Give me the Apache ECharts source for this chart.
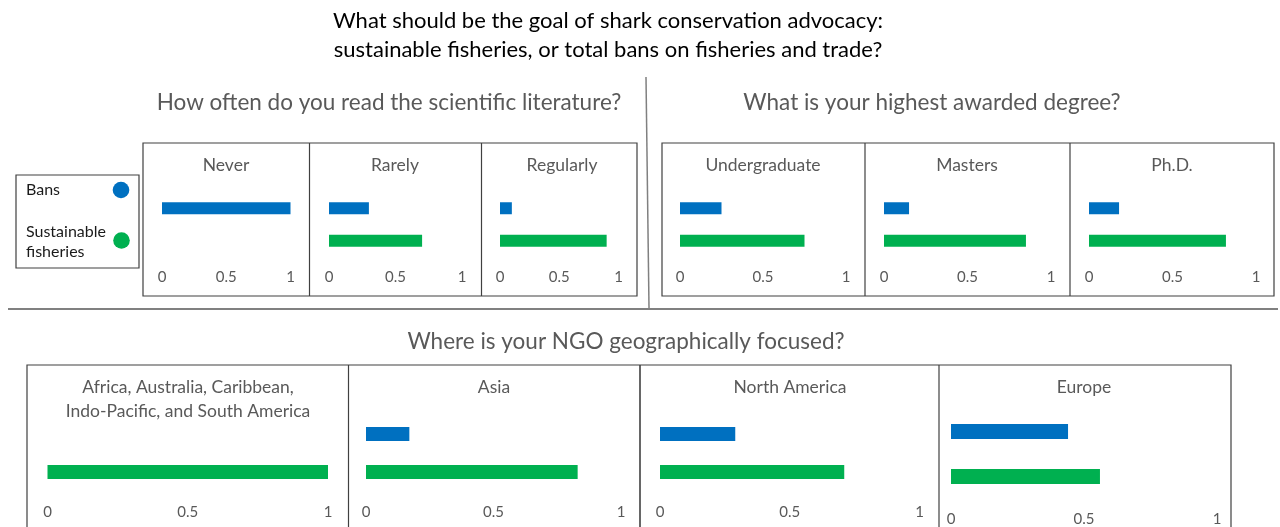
<!doctype html>
<html lang="en">
<head>
    <meta charset="utf-8">
    <script src="https://cdn.jsdelivr.net/npm/echarts@6.0.0/dist/echarts.min.js"></script>
    <style>
        html, body { margin: 0; padding: 0; background: #fff; }
        #main { width: 1280px; height: 527px; }
    </style>
</head>
<body>
<div id="main"></div>
<script type="text/javascript">
    // data (share of answers per group)
    var seriesNames = ['Bans', 'Sustainable fisheries'];
    var xTicks = [0, 0.5, 1];

    var readCats = ['Never', 'Rarely', 'Regularly'];
    var readBans = [1.0, 0.3, 0.1];
    var readSust = [0, 0.7, 0.9];

    var degreeCats = ['Undergraduate', 'Masters', 'Ph.D.'];
    var degreeBans = [0.25, 0.15, 0.18];
    var degreeSust = [0.75, 0.85, 0.82];

    var regionCats = ['Africa, Australia, Caribbean,\nIndo-Pacific, and South America', 'Asia', 'North America', 'Europe'];
    var regionBans = [0, 0.17, 0.29, 0.44];
    var regionSust = [1.0, 0.83, 0.71, 0.56];

    var colors = ['#0070C0', '#00B050'];
    var FONT = 'Lato, "Open Sans", sans-serif';
    var grey = '#595959';
    var edge = '#404040';

    // panel layout: axis start x, axis width, plot top, plot height, bar width, label margin, title x
    var panels = [
        {cat: readCats[0],   bans: readBans[0],   sust: readSust[0],   left: 162,  width: 128.5, top: 192, height: 65, bw: 12, margin: 13, tx: 226},
        {cat: readCats[1],   bans: readBans[1],   sust: readSust[1],   left: 329,  width: 133,   top: 192, height: 65, bw: 12, margin: 13, tx: 395},
        {cat: readCats[2],   bans: readBans[2],   sust: readSust[2],   left: 500,  width: 118.5, top: 192, height: 65, bw: 12, margin: 13, tx: 562},
        {cat: degreeCats[0], bans: degreeBans[0], sust: degreeSust[0], left: 680,  width: 166,   top: 192, height: 65, bw: 12, margin: 13, tx: 763},
        {cat: degreeCats[1], bans: degreeBans[1], sust: degreeSust[1], left: 884,  width: 167,   top: 192, height: 65, bw: 12, margin: 13, tx: 967},
        {cat: degreeCats[2], bans: degreeBans[2], sust: degreeSust[2], left: 1089, width: 167,   top: 192, height: 65, bw: 12, margin: 13, tx: 1172},
        {cat: regionCats[0], bans: regionBans[0], sust: regionSust[0], left: 47.5, width: 280.5, top: 415, height: 76, bw: 14, margin: 14, tx: 188},
        {cat: regionCats[1], bans: regionBans[1], sust: regionSust[1], left: 366,  width: 255,   top: 415, height: 76, bw: 14, margin: 14, tx: 494},
        {cat: regionCats[2], bans: regionBans[2], sust: regionSust[2], left: 660,  width: 259.5, top: 415, height: 76, bw: 14, margin: 14, tx: 790},
        {cat: regionCats[3], bans: regionBans[3], sust: regionSust[3], left: 951,  width: 266,   top: 409, height: 92, bw: 15, margin: 13, tx: 1084}
    ];

    var grids = [], xAxes = [], yAxes = [], series = [];
    panels.forEach(function (p, i) {
        grids.push({left: p.left, width: p.width, top: p.top, height: p.height});
        xAxes.push({
            gridIndex: i, type: 'value', min: xTicks[0], max: xTicks[2], interval: xTicks[1],
            axisLine: {show: false}, axisTick: {show: false}, splitLine: {show: false},
            axisLabel: {color: grey, fontSize: 15, fontFamily: FONT, margin: p.margin}
        });
        yAxes.push({
            gridIndex: i, type: 'category', data: seriesNames, inverse: true,
            axisLine: {show: false}, axisTick: {show: false}, axisLabel: {show: false}
        });
        series.push({
            type: 'bar', xAxisIndex: i, yAxisIndex: i, barWidth: p.bw, silent: true,
            data: [p.bans, p.sust],
            itemStyle: {color: function (d) { return colors[d.dataIndex]; }}
        });
    });

    function txt(x, y, s, size, color, align) {
        return {
            type: 'text', x: x, y: y, silent: true,
            style: {
                text: s, fill: color, font: size + 'px ' + FONT,
                align: align || 'center', textAlign: align || 'center',
                verticalAlign: 'middle', textVerticalAlign: 'middle', lineHeight: Math.round(size * 1.35)
            }
        };
    }
    function box(x1, y1, x2, y2) {
        return {type: 'rect', silent: true, shape: {x: x1, y: y1, width: x2 - x1, height: y2 - y1},
            style: {fill: 'none', stroke: edge, lineWidth: 1.2}};
    }
    function line(x1, y1, x2, y2, color, w) {
        return {type: 'line', silent: true, shape: {x1: x1, y1: y1, x2: x2, y2: y2},
            style: {stroke: color, lineWidth: w}};
    }

    var g = [];
    g.push(txt(608, 21, 'What should be the goal of shark conservation advocacy:', 22, '#000'));
    g.push(txt(608, 50, 'sustainable fisheries, or total bans on fisheries and trade?', 22, '#000'));
    g.push(txt(389, 103, 'How often do you read the scientific literature?', 22.5, grey));
    g.push(txt(932, 103, 'What is your highest awarded degree?', 22.5, grey));
    g.push(txt(626, 342, 'Where is your NGO geographically focused?', 22.5, grey));

    g.push(line(646, 77, 649, 308, '#808080', 1.5));
    g.push(line(8, 309, 1278, 309, '#808080', 2));

    // panel frames
    g.push(box(143, 143, 637, 296));
    g.push(line(309.5, 143, 309.5, 296, edge, 1.2));
    g.push(line(481.5, 143, 481.5, 296, edge, 1.2));
    g.push(box(662, 143, 1274, 296));
    g.push(line(865, 143, 865, 296, edge, 1.2));
    g.push(line(1070, 143, 1070, 296, edge, 1.2));
    g.push(box(27, 365, 1231, 545));
    g.push(line(348.5, 365, 348.5, 527, edge, 1.2));
    g.push(line(640, 365, 640, 527, edge, 1.6));
    g.push(line(939, 365, 939, 527, edge, 1.2));

    panels.forEach(function (p, i) {
        var y = i < 6 ? 165 : 387;
        if (p.cat.indexOf('\n') >= 0) y = 399;
        g.push(txt(p.tx, y, p.cat, 17.5, grey));
    });

    // legend
    g.push(box(16, 175, 139, 268));
    g.push(txt(26, 190, seriesNames[0], 16, '#1a1a1a', 'left'));
    g.push(txt(26, 232, 'Sustainable', 16, '#1a1a1a', 'left'));
    g.push(txt(26, 252, 'fisheries', 16, '#1a1a1a', 'left'));
    g.push({type: 'circle', silent: true, shape: {cx: 121, cy: 190, r: 8.3}, style: {fill: colors[0]}});
    g.push({type: 'circle', silent: true, shape: {cx: 121.5, cy: 240.5, r: 8.3}, style: {fill: colors[1]}});

    var myChart = echarts.init(document.getElementById('main'));
    myChart.setOption({
        animation: false,
        grid: grids,
        xAxis: xAxes,
        yAxis: yAxes,
        series: series,
        graphic: {elements: g}
    });
</script>
</body>
</html>
